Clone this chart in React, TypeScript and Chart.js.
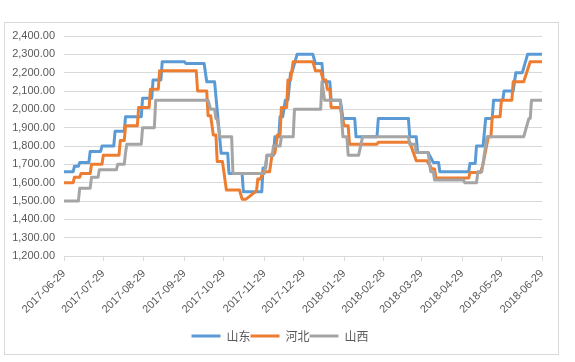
import React, { useEffect, useRef } from 'react';
import { Chart, registerables } from 'chart.js';

Chart.register(...registerables);

// Date axis: x values are days after the first date below
const startDate = '2017-06-29';
const tickLabels = [
  '2017-06-29', '2017-07-29', '2017-08-29', '2017-09-29', '2017-10-29', '2017-11-29',
  '2017-12-29', '2018-01-29', '2018-02-28', '2018-03-29', '2018-04-29', '2018-05-29', '2018-06-29',
];
const seriesNames = ['山东', '河北', '山西'];
const seriesColors = ['#5B9BD5', '#ED7D31', '#A5A5A5'];

// 山东
const shandongDays = [0, 7, 8, 11, 12, 19, 20, 28, 29, 38, 39, 46, 47, 59, 60, 67, 68, 74, 75, 92, 93, 107, 109, 115, 120, 125, 126, 136, 137, 151, 152, 154, 155, 160, 161, 164, 165, 167, 169, 171, 173, 174, 178, 190, 192, 197, 198, 203, 204, 211, 213, 222, 223, 239, 240, 263, 264, 269, 270, 278, 282, 286, 287, 309, 310, 314, 315, 320, 322, 327, 328, 335, 336, 343, 345, 350, 354, 365];
const shandongValues = [1660, 1660, 1690, 1690, 1710, 1710, 1770, 1770, 1800, 1800, 1880, 1880, 1960, 1960, 2060, 2060, 2160, 2160, 2260, 2260, 2250, 2250, 2150, 2150, 1760, 1760, 1650, 1650, 1550, 1550, 1680, 1680, 1750, 1750, 1850, 1850, 1960, 1960, 2050, 2050, 2200, 2200, 2300, 2300, 2250, 2250, 2150, 2150, 2050, 2050, 1950, 1950, 1850, 1850, 1950, 1950, 1850, 1850, 1765, 1765, 1710, 1710, 1660, 1660, 1705, 1705, 1800, 1800, 1950, 1950, 2050, 2050, 2100, 2100, 2200, 2200, 2300, 2300];

// 河北
const hebeiDays = [0, 7, 8, 12, 13, 20, 21, 29, 30, 42, 43, 46, 47, 56, 57, 65, 66, 72, 73, 101, 102, 109, 110, 112, 114, 116, 117, 121, 124, 134, 136, 139, 147, 148, 150, 152, 157, 159, 161, 163, 165, 166, 170, 171, 173, 175, 190, 192, 196, 198, 200, 201, 203, 204, 211, 214, 217, 218, 239, 240, 264, 269, 277, 281, 283, 284, 309, 310, 318, 320, 324, 326, 327, 333, 334, 342, 343, 351, 356, 365];
const hebeiValues = [1600, 1600, 1630, 1630, 1650, 1650, 1700, 1700, 1750, 1750, 1830, 1830, 1910, 1910, 2010, 2010, 2110, 2110, 2210, 2210, 2100, 2100, 1965, 1965, 1860, 1860, 1715, 1715, 1560, 1560, 1510, 1510, 1555, 1620, 1620, 1660, 1660, 1760, 1760, 1860, 1860, 2010, 2010, 2160, 2160, 2260, 2260, 2210, 2210, 2160, 2160, 2110, 2110, 2010, 2010, 1910, 1910, 1810, 1810, 1820, 1820, 1720, 1720, 1675, 1675, 1625, 1625, 1655, 1655, 1700, 1850, 1850, 1960, 1960, 2050, 2050, 2150, 2150, 2260, 2260];

// 山西
const shanxiDays = [0, 11, 12, 20, 21, 26, 27, 40, 41, 46, 47, 48, 59, 60, 69, 70, 110, 112, 115, 116, 117, 119, 128, 129, 153, 155, 159, 160, 165, 166, 175, 176, 196, 197, 199, 211, 213, 216, 217, 225, 228, 263, 264, 268, 269, 278, 280, 282, 283, 305, 306, 315, 316, 319, 323, 351, 355, 356, 357, 365];
const shanxiValues = [1500, 1500, 1570, 1570, 1630, 1630, 1670, 1670, 1700, 1700, 1765, 1810, 1810, 1900, 1900, 2050, 2050, 2000, 2000, 1950, 1950, 1850, 1850, 1650, 1650, 1750, 1750, 1800, 1800, 1850, 1850, 2000, 2000, 2150, 2050, 2050, 1850, 1850, 1750, 1750, 1850, 1850, 1810, 1810, 1765, 1765, 1660, 1660, 1615, 1615, 1600, 1600, 1660, 1660, 1850, 1850, 1950, 1950, 2050, 2050];

const yMin = 1200;
const yMax = 2400;
const yStep = 100;

const dayOf = (s: string) => {
  const [a, b, c] = s.split('-').map(Number);
  const [a0, b0, c0] = startDate.split('-').map(Number);
  return Math.round((Date.UTC(a, b - 1, c) - Date.UTC(a0, b0 - 1, c0)) / 86400000);
};

const toPoints = (days: number[], values: number[]) => days.map((d, i) => ({ x: d, y: values[i] }));

export default function App() {
  const ref = useRef<HTMLCanvasElement | null>(null);

  useEffect(() => {
    document.body.style.margin = '0';
    const canvas = ref.current;
    if (!canvas) return;
    const tickDays = tickLabels.map(dayOf);
    const axisFont = { family: '"Liberation Sans", Arial, sans-serif', size: 11 };
    const allDays = [shandongDays, hebeiDays, shanxiDays];
    const allValues = [shandongValues, hebeiValues, shanxiValues];

    const chart = new Chart(canvas, {
      type: 'line',
      data: {
        datasets: seriesNames.map((name, i) => ({
          label: name,
          data: toPoints(allDays[i], allValues[i]),
          borderColor: seriesColors[i],
          backgroundColor: seriesColors[i],
          borderWidth: 3,
          borderJoinStyle: 'round',
          borderCapStyle: 'round',
          pointRadius: 0,
          tension: 0,
          order: 3 - i,
        })),
      },
      options: {
        animation: false,
        responsive: false,
        events: [],
        layout: { padding: { top: 36, right: 15, left: 0, bottom: 10 } },
        plugins: {
          tooltip: { enabled: false },
          legend: {
            position: 'bottom',
            labels: {
              usePointStyle: true,
              pointStyleWidth: 29,
              padding: 0,
              color: '#595959',
              font: { family: '"Noto Sans CJK SC", sans-serif', size: 12 },
              generateLabels: (c: any) =>
                c.data.datasets.map((ds: any, i: number) => ({
                  text: ds.label,
                  fillStyle: ds.borderColor,
                  strokeStyle: ds.borderColor,
                  lineWidth: 3,
                  lineCap: 'butt',
                  pointStyle: 'line',
                  hidden: false,
                  datasetIndex: i,
                  fontColor: '#595959',
                })),
            },
          },
        },
        scales: {
          x: {
            type: 'linear',
            min: tickDays[0],
            max: tickDays[tickDays.length - 1],
            afterBuildTicks: (scale: any) => {
              scale.ticks = tickDays.map((v) => ({ value: v }));
            },
            afterFit: (scale: any) => {
              scale.height = 74;
            },
            ticks: {
              autoSkip: false,
              maxRotation: 45,
              minRotation: 45,
              padding: 6,
              color: '#595959',
              font: axisFont,
              callback: (_v: any, i: number) => tickLabels[i],
            },
            grid: { drawOnChartArea: false, drawTicks: true, tickLength: 5, color: '#D9D9D9' },
            border: { color: '#D9D9D9' },
          },
          y: {
            min: yMin,
            max: yMax,
            afterFit: (scale: any) => {
              scale.width = 64;
            },
            ticks: {
              stepSize: yStep,
              padding: 9,
              color: '#595959',
              font: axisFont,
              callback: (v: any) =>
                Number(v).toLocaleString('en-US', { minimumFractionDigits: 2, maximumFractionDigits: 2 }),
            },
            grid: { color: '#D9D9D9', drawTicks: false },
            border: { display: false },
          },
          yRight: {
            position: 'right',
            min: yMin,
            max: yMax,
            afterFit: (scale: any) => {
              scale.width = 18;
            },
            ticks: { display: false },
            grid: { display: false },
            border: { display: false },
          },
        },
      } as any,
    });
    return () => chart.destroy();
  }, []);

  return (
    <div style={{ position: 'relative', width: 575, height: 362, background: '#fff' }}>
      <div
        style={{
          position: 'absolute',
          left: 4,
          top: 22,
          width: 553,
          height: 331,
          border: '1px solid #D9D9D9',
        }}
      />
      <canvas
        ref={ref}
        width={575}
        height={362}
        style={{ position: 'absolute', left: 0, top: 0, width: 575, height: 362 }}
      />
    </div>
  );
}
